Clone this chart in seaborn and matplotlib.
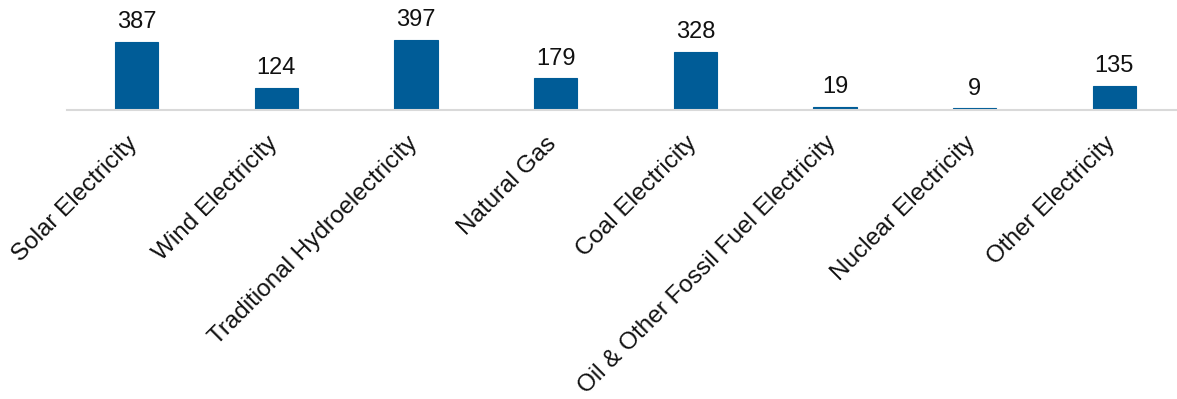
import matplotlib
matplotlib.use("Agg")
import matplotlib.pyplot as plt
import matplotlib.transforms as mtransforms
import seaborn as sns
import pandas as pd

categories = ["Solar Electricity", "Wind Electricity", "Traditional Hydroelectricity",
              "Natural Gas", "Coal Electricity", "Oil & Other Fossil Fuel Electricity",
              "Nuclear Electricity", "Other Electricity"]
values = [387, 124, 397, 179, 328, 19, 9, 135]

sns.set_theme(style="white")
plt.rcParams['font.family'] = ['Liberation Sans', 'DejaVu Sans']

W, H = 1177, 399
fig = plt.figure(figsize=(W/100, H/100), dpi=100)
left, base, top = 67, 110, 0
ax = fig.add_axes([left/W, (H-base)/H, (W-left)/W, (base-top)/H])

df = pd.DataFrame({"cat": categories, "val": values})
sns.barplot(data=df, x="cat", y="val", color="#005C97", saturation=1, width=0.31,
            edgecolor="#005C97", linewidth=0.8, ax=ax)

ax.set_xlim(-0.5, 7.45)
ax.set_ylim(0, 397*110/70)
for i, v in enumerate(values):
    ax.text(i, v + 50, str(v), ha="center", va="bottom", fontsize=17, color="#111111")

for s in ["top", "right", "left"]:
    ax.spines[s].set_visible(False)
ax.spines["bottom"].set_color("#d9d9d9")
ax.spines["bottom"].set_linewidth(1.5)
ax.set_yticks([])
ax.set_xlabel("")
ax.set_ylabel("")
ax.tick_params(axis="x", length=0, pad=6)
ax.set_xticks(range(len(categories)))
ax.set_xticklabels(categories, rotation=45, ha="right", rotation_mode="anchor",
                   fontsize=17.5, color="#111111")
offset = mtransforms.ScaledTranslation(-10/100, -14/100, fig.dpi_scale_trans)
for lbl in ax.get_xticklabels():
    lbl.set_transform(lbl.get_transform() + offset)

fig.savefig("out.png", dpi=100)
